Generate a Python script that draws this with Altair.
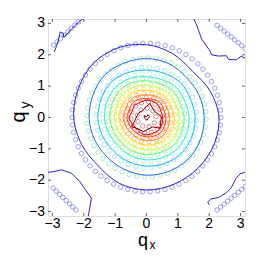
import math
import altair as alt
import pandas as pd

# ---------------- data ----------------
TICKS = [-3, -2, -1, 0, 1, 2, 3]
TICK_LABELS = ["\u22123", "\u22122", "\u22121", "0", "1", "2", "3"]
ANGLES = [0, 22.5, 45, 67.5, 90, 112.5, 135, 157.5, 180, 202.5, 225, 247.5, 270, 292.5, 315, 337.5]

# contour lines (outer -> inner), radius at each angle
LINE_COLORS = ["#2626d6", "#3366f5", "#22b4ff", "#33e8dd", "#66f58a",
               "#b4ff40", "#ffd800", "#ff8a00", "#ff3a00", "#d80000"]
LINE_R = [
    [2.31, 2.20, 2.08, 2.20, 2.32, 2.40, 2.42, 2.36, 2.32, 2.24, 2.18, 2.27, 2.31, 2.30, 2.30, 2.32],
    [1.84, 1.82, 1.80, 1.86, 1.88, 1.88, 1.90, 1.85, 1.83, 1.80, 1.78, 1.80, 1.84, 1.86, 1.88, 1.86],
    [1.55, 1.52, 1.55, 1.52, 1.51, 1.55, 1.60, 1.56, 1.55, 1.52, 1.50, 1.52, 1.55, 1.58, 1.60, 1.57],
    [1.36, 1.33, 1.35, 1.30, 1.30, 1.35, 1.38, 1.36, 1.34, 1.30, 1.28, 1.32, 1.35, 1.38, 1.40, 1.38],
    [1.20, 1.17, 1.20, 1.16, 1.17, 1.20, 1.22, 1.18, 1.17, 1.14, 1.13, 1.16, 1.18, 1.20, 1.24, 1.22],
    [1.05, 1.02, 1.05, 1.02, 1.03, 1.05, 1.06, 1.02, 1.02, 1.00, 0.98, 1.00, 1.03, 1.06, 1.08, 1.06],
    [0.88, 0.86, 0.90, 0.88, 0.87, 0.90, 0.90, 0.87, 0.88, 0.85, 0.84, 0.86, 0.88, 0.90, 0.92, 0.90],
    [0.74, 0.72, 0.76, 0.74, 0.72, 0.75, 0.76, 0.72, 0.74, 0.72, 0.70, 0.72, 0.74, 0.76, 0.78, 0.75],
    [0.62, 0.60, 0.64, 0.62, 0.60, 0.63, 0.64, 0.60, 0.62, 0.60, 0.58, 0.60, 0.62, 0.64, 0.66, 0.63],
    [0.52, 0.50, 0.54, 0.55, 0.55, 0.52, 0.54, 0.50, 0.55, 0.50, 0.48, 0.52, 0.55, 0.54, 0.56, 0.53],
]

# innermost dark-red contours
BLOB_X = [0.11, 0.25, 0.48, 0.45, 0.43, 0.20, -0.10, -0.30, -0.47, -0.35, -0.26, -0.10, 0.11]
BLOB_Y = [0.45, 0.20, 0.03, -0.15, -0.34, -0.30, -0.45, -0.35, -0.29, -0.05, 0.13, 0.25, 0.45]
HEART_X = [0.00, 0.05, 0.10, 0.05, 0.02, -0.05, -0.08, 0.00]
HEART_Y = [0.02, 0.09, 0.03, -0.03, -0.09, -0.03, 0.06, 0.02]
DARKRED = "#800000"

# corner pieces of the outer contour (periodic wrap)
TL_X = [-2.94, -2.88, -2.81, -2.75, -2.65, -2.65, -2.56, -2.38, -2.12, -2.02]
TL_Y = [2.09, 2.25, 2.47, 2.73, 2.68, 2.57, 2.63, 2.84, 3.08, 3.16]
TR_X = [1.50, 1.60, 1.76, 2.02, 2.08, 2.29, 2.55, 2.62, 2.87, 3.02, 3.16]
TR_Y = [3.16, 2.95, 2.50, 2.13, 2.00, 1.96, 1.97, 1.85, 1.84, 1.96, 1.88]
BL_X = [-3.16, -2.98, -2.71, -2.39, -2.13, -1.95, -1.76, -1.81, -1.86]
BL_Y = [-1.75, -1.73, -1.67, -1.78, -2.04, -2.30, -2.57, -2.89, -3.16]
BR_X = [3.16, 2.98, 2.85, 2.70, 2.55, 2.30, 2.05, 1.95, 2.00]
BR_Y = [-1.74, -1.80, -1.95, -2.25, -2.40, -2.55, -2.60, -2.70, -2.78]

# rings of circle markers: radius, count, colour
RING_R = [2.37, 1.90, 1.60, 1.40, 1.22, 1.06, 0.91, 0.77, 0.64, 0.50, 0.30]
RING_N = [62, 48, 40, 36, 32, 28, 24, 20, 17, 14, 9]
RING_C = ["#4a4aee", "#5fdc9a", "#55d6f0", "#7ae8c8", "#77ea66", "#c8ee44",
          "#ffc430", "#ff8a44", "#f04a33", "#dd2222", "#993333"]
# diagonal rows of circles in the corners
CTL = ([-2.97, -2.17], [2.31, 3.05], 8)
CTR = ([2.25, 3.15], [2.94, 2.20], 9)
CBL = ([-2.98, -2.25], [-2.25, -2.95], 8)
CBR = ([2.25, 3.15], [-2.95, -2.20], 9)
CORNER_C = "#4a4aee"

# ---------------- tables ----------------
rings = []
for k, (radii, col) in enumerate(zip(LINE_R, LINE_COLORS)):
    for i, (ang, r) in enumerate(zip(ANGLES, radii)):
        a = math.radians(ang)
        rings.append(dict(x=r * math.cos(a), y=r * math.sin(a), g=f"L{k}", o=i, c=col))
rings_df = pd.DataFrame(rings)

rows = []
for name, xs_, ys_, col in [("blob", BLOB_X, BLOB_Y, DARKRED), ("heart", HEART_X, HEART_Y, DARKRED),
                            ("tl", TL_X, TL_Y, LINE_COLORS[0]), ("tr", TR_X, TR_Y, LINE_COLORS[0]),
                            ("bl", BL_X, BL_Y, LINE_COLORS[0]), ("br", BR_X, BR_Y, LINE_COLORS[0])]:
    for i, (x, y) in enumerate(zip(xs_, ys_)):
        rows.append(dict(x=x, y=y, g=name, o=i, c=col))
lines_df = pd.DataFrame(rows)

pts = []
for r, n, col in zip(RING_R, RING_N, RING_C):
    for j in range(n):
        a = 2 * math.pi * j / n + 0.1
        pts.append(dict(x=r * math.cos(a), y=r * math.sin(a), c=col))
for (cx, cy, n) in [CTL, CTR, CBL, CBR]:
    for j in range(n):
        t = j / (n - 1)
        pts.append(dict(x=cx[0] + t * (cx[1] - cx[0]), y=cy[0] + t * (cy[1] - cy[0]), c=CORNER_C))
pts_df = pd.DataFrame(pts)
ticks_df = pd.DataFrame({"v": TICKS, "lbl": TICK_LABELS})

PI = math.pi
W = H = 197
FONT = "Liberation Sans"

xs = alt.Scale(domain=[-PI, PI], nice=False, zero=False)
ys = alt.Scale(domain=[-PI, PI], nice=False, zero=False)
X = lambda f: alt.X(f, scale=xs, axis=None)
Y = lambda f: alt.Y(f, scale=ys, axis=None)

circles = alt.Chart(pts_df).mark_point(shape="circle", filled=False, size=20, strokeWidth=0.7,
                                       opacity=0.75, clip=True).encode(
    x=X("x:Q"), y=Y("y:Q"), color=alt.Color("c:N", scale=None))

ring_lines = alt.Chart(rings_df).mark_line(strokeWidth=1, clip=True, interpolate="cardinal-closed").encode(
    x=X("x:Q"), y=Y("y:Q"), color=alt.Color("c:N", scale=None), detail="g:N", order="o:Q")

other_lines = alt.Chart(lines_df).mark_line(strokeWidth=1, clip=True).encode(
    x=X("x:Q"), y=Y("y:Q"), color=alt.Color("c:N", scale=None), detail="g:N", order="o:Q")

tick_style = dict(color="#444", strokeWidth=0.8)
tb = alt.Chart(ticks_df).mark_rule(**tick_style).encode(x=X("v:Q"), y=alt.value(H), y2=alt.value(H - 3))
tt = alt.Chart(ticks_df).mark_rule(**tick_style).encode(x=X("v:Q"), y=alt.value(0), y2=alt.value(3))
tl = alt.Chart(ticks_df).mark_rule(**tick_style).encode(y=Y("v:Q"), x=alt.value(0), x2=alt.value(3))
tr = alt.Chart(ticks_df).mark_rule(**tick_style).encode(y=Y("v:Q"), x=alt.value(W), x2=alt.value(W - 3))

xlabels = alt.Chart(ticks_df).mark_text(font=FONT, fontSize=14, color="black", align="center",
                                        baseline="middle").encode(
    x=X("v:Q"), y=alt.value(H + 8), text="lbl:N")
ylabels = alt.Chart(ticks_df).mark_text(font=FONT, fontSize=14, color="black", align="right",
                                        baseline="middle").encode(
    y=Y("v:Q"), x=alt.value(-3), text="lbl:N")

one = pd.DataFrame({"k": [0]})
def label(txt, x, y, size, angle=0):
    return alt.Chart(one).mark_text(text=txt, font=FONT, fontSize=size, color="black",
                                    angle=angle, align="center", baseline="middle").encode(
        x=alt.value(x), y=alt.value(y))

titles = [
    label("q", 95, 222, 18),
    label("x", 104.5, 226, 12),
    label("q", -29, 98, 20, 270),
    label("y", -22, 86, 14, 270),
]

chart = alt.layer(circles, ring_lines, other_lines, tb, tt, tl, tr, xlabels, ylabels, *titles).properties(
    width=W, height=H,
    autosize=alt.AutoSizeParams(type="none"),
    padding={"left": 40, "top": 11, "right": 16, "bottom": 36},
).configure_view(stroke="#555", strokeWidth=1).configure(background="white")

chart.save("out.html", embed_options={"renderer": "svg", "actions": False})
